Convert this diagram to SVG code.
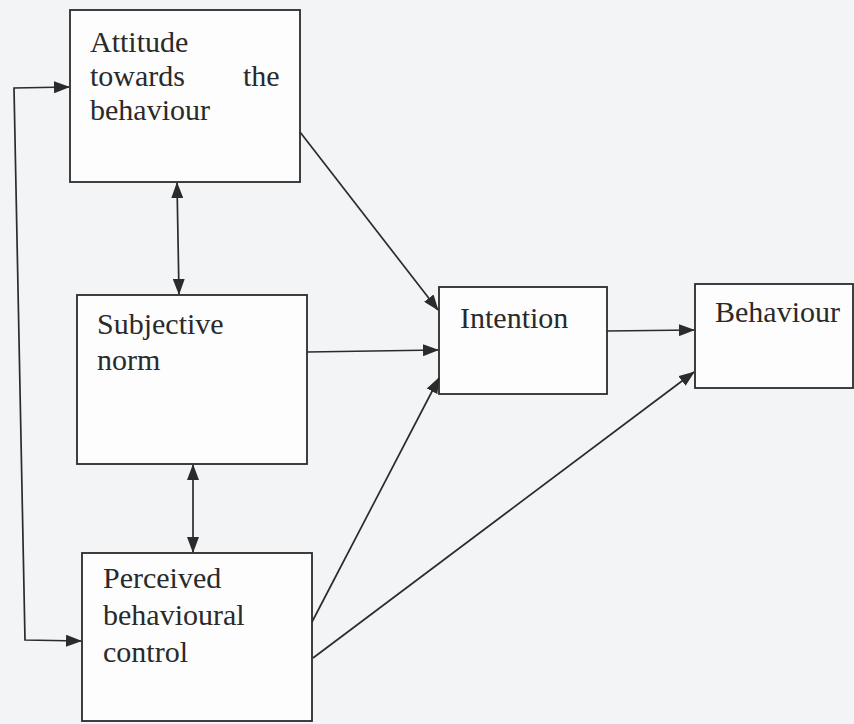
<svg xmlns="http://www.w3.org/2000/svg" width="854" height="724" viewBox="0 0 854 724">
  <style>
    .box { fill: #fdfdfd; stroke: #2b2b2b; stroke-width: 1.8; }
    .lbl { font-family: "Liberation Serif", "Times New Roman", serif; font-size: 30px; fill: #2a2a2a; }
    .con { fill: none; stroke: #2b2b2b; stroke-width: 1.7; }
  </style>
  <defs>
    <marker id="ah" markerUnits="userSpaceOnUse" markerWidth="16" markerHeight="12" refX="15" refY="6" orient="auto-start-reverse" viewBox="0 0 16 12">
      <path d="M0,0 L16,6 L0,12 Z" fill="#2b2b2b"/>
    </marker>
  </defs>
  <rect x="0" y="0" width="854" height="724" fill="#f2f4f6"/>

  <g id="attitude">
    <rect class="box" x="70" y="10" width="230" height="172"/>
    <text class="lbl" x="90" y="52">Attitude</text>
    <text class="lbl" x="90" y="86">towards</text>
    <text class="lbl" x="243" y="86">the</text>
    <text class="lbl" x="90" y="120">behaviour</text>
  </g>

  <g id="subjective">
    <rect class="box" x="77" y="295" width="230" height="169"/>
    <text class="lbl" x="97" y="334">Subjective</text>
    <text class="lbl" x="97" y="370">norm</text>
  </g>

  <g id="perceived">
    <rect class="box" x="82" y="553" width="230" height="168"/>
    <text class="lbl" x="103" y="588">Perceived</text>
    <text class="lbl" x="103" y="625">behavioural</text>
    <text class="lbl" x="103" y="662">control</text>
  </g>

  <g id="intention">
    <rect class="box" x="439" y="287" width="168" height="107"/>
    <text class="lbl" x="460" y="328">Intention</text>
  </g>

  <g id="behaviour">
    <rect class="box" x="695" y="284" width="158" height="104"/>
    <text class="lbl" x="715" y="322">Behaviour</text>
  </g>

  <g id="connectors">
    <path class="con" d="M69,87 L14,88 L25,640 L81,641" marker-start="url(#ah)" marker-end="url(#ah)"/>
    <line class="con" x1="177" y1="183" x2="179" y2="294" marker-start="url(#ah)" marker-end="url(#ah)"/>
    <line class="con" x1="193" y1="465" x2="193" y2="552" marker-start="url(#ah)" marker-end="url(#ah)"/>
    <line class="con" x1="300" y1="132" x2="438" y2="310" marker-end="url(#ah)"/>
    <line class="con" x1="307" y1="352" x2="438" y2="350" marker-end="url(#ah)"/>
    <line class="con" x1="312" y1="622" x2="439" y2="378" marker-end="url(#ah)"/>
    <line class="con" x1="313" y1="658" x2="694" y2="372" marker-end="url(#ah)"/>
    <line class="con" x1="607" y1="331" x2="694" y2="330" marker-end="url(#ah)"/>
  </g>
</svg>
